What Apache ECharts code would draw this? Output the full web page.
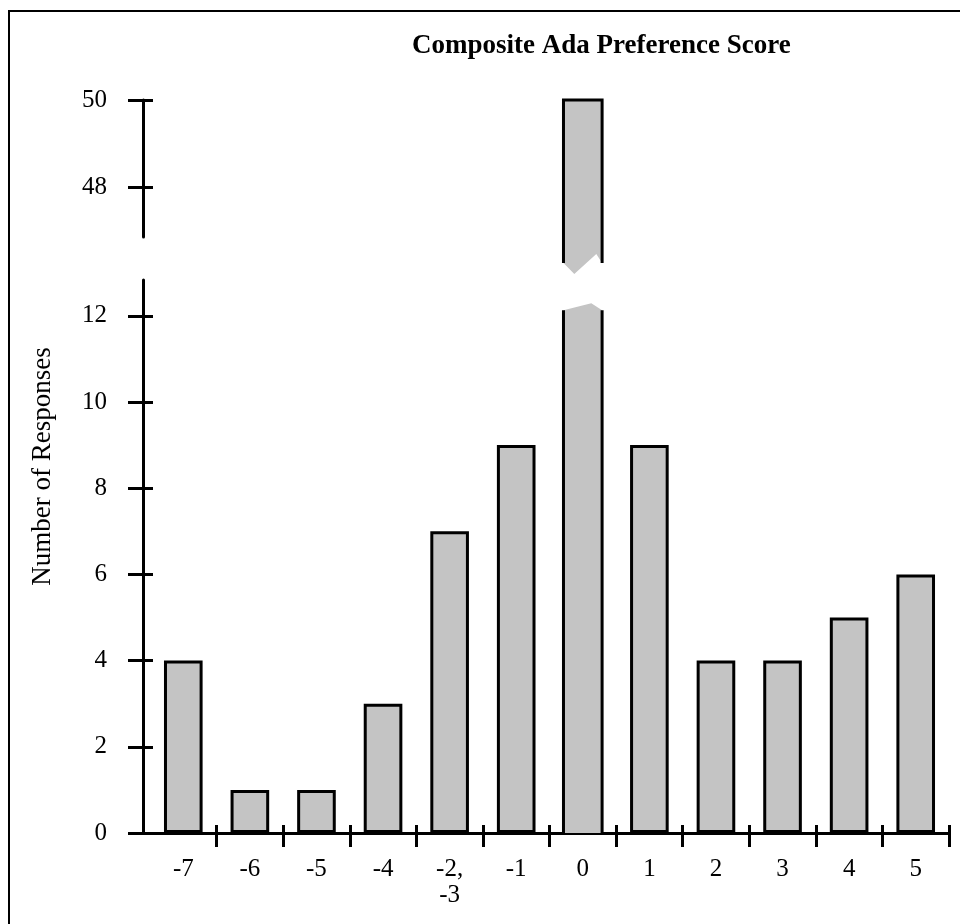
<!DOCTYPE html>
<html><head><meta charset="utf-8">
<script src="https://cdn.jsdelivr.net/npm/echarts@6/dist/echarts.min.js"></script>
<style>
html,body{margin:0;padding:0;background:#fff;overflow:hidden}
#frame{position:absolute;left:8px;top:10px;width:1000px;height:1000px;border:2px solid #000;box-sizing:border-box}
#chart{position:absolute;left:0;top:0;width:960px;height:924px}
</style></head><body>
<div id="frame"></div><div id="chart"></div>
<script>
// ---- data ----
const categories = ['-7', '-6', '-5', '-4', '-2,\n-3', '-1', '0', '1', '2', '3', '4', '5'];
const responses = [4, 1, 1, 3, 7, 9, 50, 9, 4, 4, 5, 6];
const lowerTicks = [0, 2, 4, 6, 8, 10, 12];
const upperTicks = [48, 50];
const brokenIndex = 6;          // category whose bar runs through the axis break
const lowerRange = [0, 12.83];  // lower axis segment
const upperRange = [46.85, 50]; // upper axis segment
const lowerCut = 12.13;         // where the broken bar's lower piece ends
const upperCut = 46.25;         // where the broken bar's upper piece ends

// ---- style ----
const FONT = 'Liberation Serif';
const FILL = '#c4c4c4';
const BAR_FRAC = 0.58;
const LW = 3;

const chart = echarts.init(document.getElementById('chart'), null, {renderer: 'canvas'});

const tickHide = function (i) { return i !== 0; };

function lowerPiece(params, api) {
  const x = api.value(0);
  const t = api.coord([x, api.value(1)]);
  const b = api.coord([x, 0]);
  const w = api.size([1, 0])[0] * BAR_FRAC;
  const L = t[0] - w / 2, R = t[0] + w / 2, yt = t[1], yb = b[1];
  return {type: 'group', children: [
    {type: 'polygon', shape: {points: [[L, yb], [L, yt], [L + 0.72 * w, yt - 7], [R, yt], [R, yb]]}, style: {fill: FILL}},
    {type: 'polyline', shape: {points: [[L, yt], [L, yb]]}, style: {stroke: '#000', lineWidth: LW, fill: null}},
    {type: 'polyline', shape: {points: [[R, yt], [R, yb]]}, style: {stroke: '#000', lineWidth: LW, fill: null}}
  ]};
}
function upperPiece(params, api) {
  const x = api.value(0);
  const t = api.coord([x, api.value(1)]);
  const b = api.coord([x, api.value(2)]);
  const w = api.size([1, 0])[0] * BAR_FRAC;
  const L = t[0] - w / 2, R = t[0] + w / 2, yt = t[1], yb = b[1];
  return {type: 'group', children: [
    {type: 'polygon', shape: {points: [[L, yt], [R, yt], [R, yb], [L + 0.85 * w, yb - 9], [L + 0.28 * w, yb + 11], [L, yb]]}, style: {fill: FILL}},
    {type: 'polyline', shape: {points: [[L, yb], [L, yt], [R, yt], [R, yb]]}, style: {stroke: '#000', lineWidth: LW, fill: null, lineJoin: 'miter'}}
  ]};
}

const valueLabel = {color: '#000', fontFamily: FONT, fontSize: 25, margin: 36};
const mainTick = {show: true, inside: false, length: 15, lineStyle: {color: '#000', width: LW}};
const innerTick = {show: true, inside: true, length: 10, lineStyle: {color: '#000', width: LW}};
const axisLine = {show: true, lineStyle: {color: '#000', width: LW}};

chart.setOption({
  animation: false,
  backgroundColor: 'transparent',
  title: {
    text: 'Composite Ada Preference Score',
    left: 407, top: 28,
    textStyle: {fontFamily: FONT, fontSize: 27, fontWeight: 'bold', color: '#000'}
  },
  grid: [
    {left: 150, right: 11, top: 280, height: 553},
    {left: 150, right: 11, top: 100, height: 137},
    {left: 150, right: 11, top: 100, height: 733}
  ],
  xAxis: [
    {type: 'category', gridIndex: 0, data: categories, boundaryGap: true,
     axisLine: axisLine,
     axisTick: {show: true, inside: false, length: 14, interval: tickHide, lineStyle: {color: '#000', width: LW}},
     axisLabel: {interval: 0, color: '#000', fontFamily: FONT, fontSize: 25, lineHeight: 26, margin: 23},
     splitLine: {show: false}},
    {type: 'category', gridIndex: 0, data: categories, boundaryGap: true, position: 'bottom',
     axisLine: {show: false},
     axisTick: {show: true, inside: true, length: 8, interval: tickHide, lineStyle: {color: '#000', width: LW}},
     axisLabel: {show: false}, splitLine: {show: false}},
    {type: 'category', gridIndex: 1, data: categories, boundaryGap: true, show: false},
    {type: 'category', gridIndex: 2, data: categories, show: false}
  ],
  yAxis: [
    {type: 'value', gridIndex: 0, min: lowerRange[0], max: lowerRange[1], offset: 7,
     axisLine: axisLine,
     axisTick: Object.assign({customValues: lowerTicks}, mainTick),
     axisLabel: Object.assign({customValues: lowerTicks}, valueLabel),
     splitLine: {show: false}},
    {type: 'value', gridIndex: 0, min: lowerRange[0], max: lowerRange[1], offset: 7, position: 'left',
     axisLine: {show: false},
     axisTick: Object.assign({customValues: lowerTicks}, innerTick),
     axisLabel: {show: false}, splitLine: {show: false}},
    {type: 'value', gridIndex: 1, min: upperRange[0], max: upperRange[1], offset: 7,
     axisLine: axisLine,
     axisTick: Object.assign({customValues: upperTicks}, mainTick),
     axisLabel: Object.assign({customValues: upperTicks}, valueLabel),
     splitLine: {show: false}},
    {type: 'value', gridIndex: 1, min: upperRange[0], max: upperRange[1], offset: 7, position: 'left',
     axisLine: {show: false},
     axisTick: Object.assign({customValues: upperTicks}, innerTick),
     axisLabel: {show: false}, splitLine: {show: false}},
    {type: 'value', gridIndex: 2, min: 0, max: 1, position: 'left',
     name: 'Number of Responses', nameLocation: 'middle', nameRotate: 90, nameGap: 94,
     nameTextStyle: {fontFamily: FONT, fontSize: 27, color: '#000'},
     axisLine: {show: false}, axisTick: {show: false}, axisLabel: {show: false}, splitLine: {show: false}}
  ],
  series: [
    {type: 'bar', xAxisIndex: 0, yAxisIndex: 0, barWidth: (BAR_FRAC * 100) + '%',
     data: responses.map(function (v, i) { return i === brokenIndex ? '-' : v; }),
     itemStyle: {color: FILL, borderColor: '#000', borderWidth: LW}, z: 1},
    {type: 'custom', xAxisIndex: 0, yAxisIndex: 0, renderItem: lowerPiece, clip: false,
     data: [[brokenIndex, lowerCut]], z: 1},
    {type: 'custom', xAxisIndex: 2, yAxisIndex: 2, renderItem: upperPiece, clip: false,
     data: [[brokenIndex, responses[brokenIndex], upperCut]], z: 1}
  ]
});
</script>
</body></html>
